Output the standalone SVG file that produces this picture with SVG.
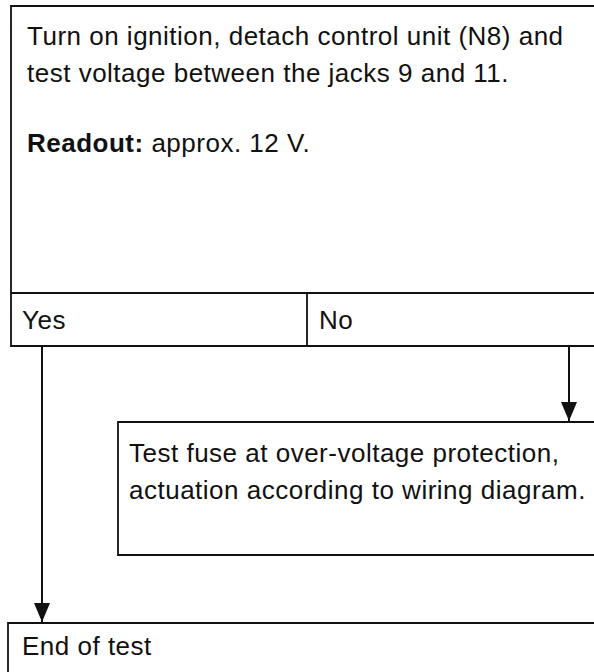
<svg xmlns="http://www.w3.org/2000/svg" width="594" height="672" viewBox="0 0 594 672">
<style>
.box{fill:none;stroke:#111;stroke-width:1.8}
.t{font-family:"Liberation Sans",Arial,Helvetica,sans-serif;font-size:26px;letter-spacing:0.5px;fill:#111}
.b{font-weight:bold}
.c{stroke:#111;stroke-width:2;fill:none}
</style>
<defs>
<marker id="ah" markerUnits="userSpaceOnUse" markerWidth="20" markerHeight="18" refX="19" refY="9" orient="auto" viewBox="0 0 20 18">
<path d="M0,1 L19,9 L0,17 Z" fill="#111"/>
</marker>
</defs>
<rect width="594" height="672" fill="#fff"/>
<g id="n1">
<path class="box" d="M600,6 H11 V346 H600 M11,293 H600 M307,293 V346"/>
<text class="t" x="27" y="45">Turn on ignition, detach control unit (N8) and</text>
<text class="t" x="27" y="82">test voltage between the jacks 9 and 11.</text>
<text class="t" x="27" y="152"><tspan class="b">Readout:</tspan> approx. 12 V.</text>
</g>
<g id="yes"><text class="t" x="22" y="329">Yes</text></g>
<g id="no"><text class="t" x="319" y="329">No</text></g>
<g id="n2">
<path class="box" d="M600,422 H118 V555 H600"/>
<text class="t" x="129" y="462">Test fuse at over-voltage protection,</text>
<text class="t" x="129" y="499">actuation according to wiring diagram.</text>
</g>
<g id="n3">
<path class="box" d="M600,623 H8 V680"/>
<text class="t" x="22" y="655">End of test</text>
</g>
<g id="connectors">
<line class="c" x1="42" y1="346" x2="42" y2="622" marker-end="url(#ah)"/>
<line class="c" x1="569" y1="346" x2="569" y2="421" marker-end="url(#ah)"/>
</g>
</svg>
